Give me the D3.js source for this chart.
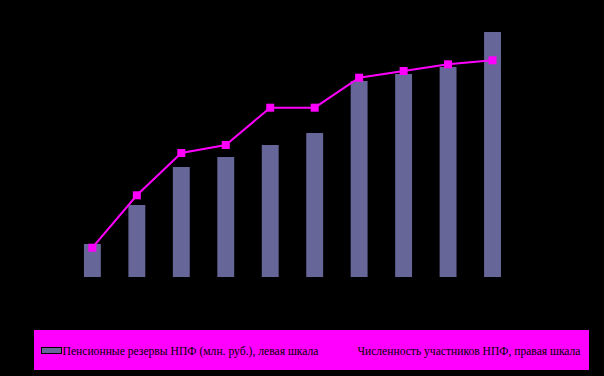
<!DOCTYPE html>
<html>
<head>
<meta charset="utf-8">
<script src="https://cdn.jsdelivr.net/npm/d3@7"></script>
<style>
  body { margin: 0; background: #000; }
  svg { display: block; }
</style>
</head>
<body>
<svg id="chart"></svg>
<script>
// данные (читаются с картинки, осей на ней не видно)
var years = ["1", "2", "3", "4", "5", "6", "7", "8", "9", "10"];
var reserves = [33000, 72000, 110000, 120000, 132000, 144000, 196000, 203000, 210000, 245000];
var members = [586, 1634, 2480, 2640, 3386, 3386, 3986, 4120, 4254, 4334];
var legendLabels = ["Пенсионные резервы НПФ (млн. руб.), левая шкала",
                    "Численность участников НПФ, правая шкала"];

var width = 604, height = 376;
var barColor = "#666699", lineColor = "#ff00ff";

var svg = d3.select("#chart")
    .attr("width", width)
    .attr("height", height);

svg.append("rect")
    .attr("width", width)
    .attr("height", height)
    .attr("fill", "#000");

var x = d3.scaleBand()
    .domain(years)
    .range([70.15, 514.75])
    .paddingInner(0.62)
    .paddingOuter(0.31);

var yLeft = d3.scaleLinear().domain([0, 250000]).range([277, 27]);
var yRight = d3.scaleLinear().domain([0, 5000]).range([277, 27]);

// столбики
svg.append("g")
  .selectAll("rect")
  .data(reserves)
  .enter()
  .append("rect")
    .attr("x", function(d, i) { return x(years[i]); })
    .attr("y", function(d) { return yLeft(d); })
    .attr("width", x.bandwidth())
    .attr("height", function(d) { return yLeft(0) - yLeft(d); })
    .attr("fill", barColor);

// линия
var cx = function(d, i) { return x(years[i]) + x.bandwidth() / 2; };
var line = d3.line()
    .x(cx)
    .y(function(d) { return yRight(d); });

svg.append("path")
    .datum(members)
    .attr("d", line)
    .attr("fill", "none")
    .attr("stroke", lineColor)
    .attr("stroke-width", 2);

svg.append("g")
  .selectAll("rect")
  .data(members)
  .enter()
  .append("rect")
    .attr("x", function(d, i) { return cx(d, i) - 4; })
    .attr("y", function(d) { return yRight(d) - 4; })
    .attr("width", 8)
    .attr("height", 8)
    .attr("fill", lineColor);

// легенда
var legend = svg.append("g");
legend.append("rect")
    .attr("x", 34).attr("y", 330)
    .attr("width", 555).attr("height", 40)
    .attr("fill", lineColor);

legend.append("rect")
    .attr("x", 41.5).attr("y", 347.5)
    .attr("width", 20).attr("height", 6)
    .attr("fill", barColor)
    .attr("stroke", "#000")
    .attr("stroke-width", 1);

legend.append("line")
    .attr("x1", 330).attr("x2", 354)
    .attr("y1", 350.5).attr("y2", 350.5)
    .attr("stroke", lineColor)
    .attr("stroke-width", 2);

legend.selectAll("text")
    .data(legendLabels)
    .enter()
    .append("text")
      .attr("x", function(d, i) { return i == 0 ? 62.5 : 357.5; })
      .attr("y", 354.5)
      .attr("textLength", function(d, i) { return i == 0 ? 256 : 223; })
      .attr("lengthAdjust", "spacingAndGlyphs")
      .attr("font-family", "Liberation Serif, serif")
      .attr("font-size", 12)
      .attr("fill", "#000")
      .text(function(d) { return d; });
</script>
</body>
</html>
